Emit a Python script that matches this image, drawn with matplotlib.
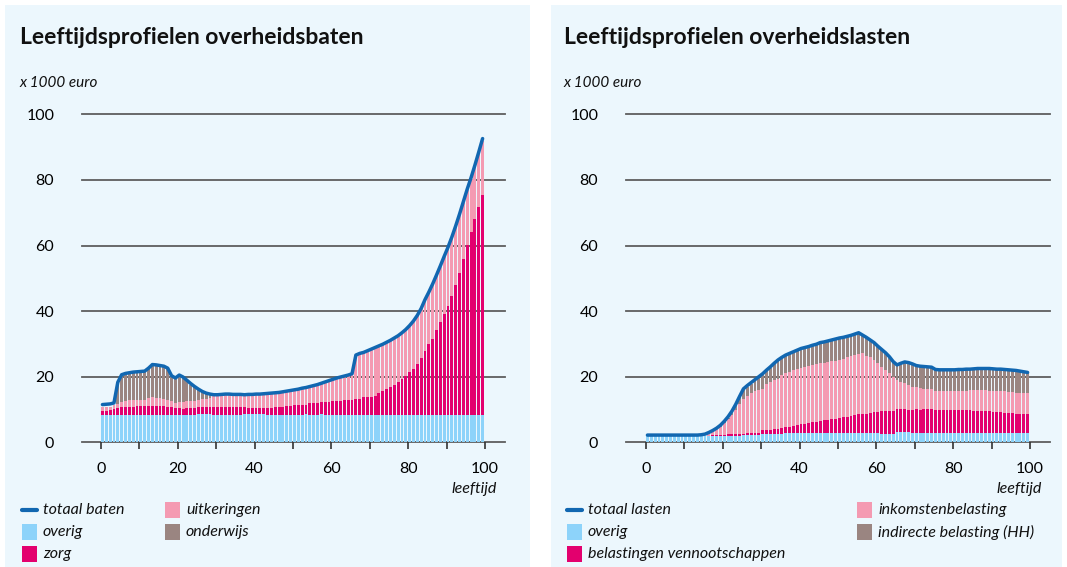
import numpy as np
import matplotlib
matplotlib.use("Agg")
import matplotlib.pyplot as plt
from matplotlib.patches import Rectangle
from matplotlib.lines import Line2D

# leeftijd 0..99, bedragen x 1000 euro
ages = np.arange(100)

baten_overig = [
    8.2, 8.2, 8.2, 8.2, 8.2, 8.2, 8.2, 8.2, 8.2, 8.2,
    8.2, 8.2, 8.2, 8.2, 8.2, 8.2, 8.2, 8.2, 8.2, 8.2,
    8.2, 8.2, 8.2, 8.2, 8.2, 8.5, 8.5, 8.5, 8.5, 8.2,
    8.2, 8.2, 8.2, 8.2, 8.2, 8.2, 8.2, 8.5, 8.5, 8.5,
    8.5, 8.5, 8.5, 8.2, 8.2, 8.2, 8.2, 8.2, 8.2, 8.2,
    8.2, 8.2, 8.2, 8.5, 8.2, 8.2, 8.2, 8.5, 8.2, 8.2,
    8.2, 8.2, 8.2, 8.2, 8.2, 8.2, 8.2, 8.2, 8.2, 8.2,
    8.2, 8.2, 8.2, 8.2, 8.2, 8.2, 8.2, 8.2, 8.2, 8.2,
    8.2, 8.2, 8.2, 8.2, 8.2, 8.2, 8.2, 8.2, 8.2, 8.2,
    8.2, 8.2, 8.2, 8.2, 8.2, 8.2, 8.2, 8.2, 8.2, 8.2,
]
baten_zorg = [
    1.4, 1.4, 1.7, 2.0, 2.3, 2.5, 2.5, 2.7, 2.7, 3.0,
    3.0, 3.0, 3.0, 3.0, 3.0, 3.0, 3.0, 2.7, 2.7, 2.3,
    2.3, 2.0, 2.3, 2.3, 2.3, 2.2, 2.2, 2.4, 2.4, 2.7,
    2.7, 2.7, 2.7, 2.7, 2.7, 2.7, 2.7, 2.4, 2.1, 2.1,
    2.1, 2.1, 2.1, 2.4, 2.4, 2.7, 2.7, 2.7, 3.0, 3.0,
    3.1, 3.3, 3.3, 3.0, 3.7, 3.7, 3.7, 3.7, 4.0, 4.0,
    4.3, 4.3, 4.3, 4.7, 4.7, 4.7, 5.1, 5.1, 5.5, 5.5,
    5.7, 6.0, 6.7, 7.5, 8.2, 8.7, 9.4, 10.3, 11.2, 12.0,
    13.3, 14.3, 15.8, 17.6, 19.5, 21.7, 23.4, 25.9, 28.5, 30.8,
    33.5, 36.3, 39.9, 43.5, 47.8, 52.1, 55.9, 59.8, 63.6, 67.2,
]
baten_uitkeringen = [
    1.3, 1.3, 1.0, 1.3, 1.2, 1.7, 1.8, 2.0, 2.0, 1.7,
    1.7, 1.7, 2.2, 2.5, 2.3, 2.2, 2.0, 2.0, 1.8, 1.4,
    1.7, 2.0, 2.0, 2.0, 2.2, 2.2, 2.4, 2.3, 2.5, 3.3,
    3.3, 3.4, 3.5, 3.5, 3.4, 3.4, 3.4, 3.3, 3.7, 3.7,
    3.8, 3.8, 3.9, 4.0, 4.1, 3.9, 4.0, 4.2, 4.1, 4.3,
    4.4, 4.4, 4.7, 4.9, 4.8, 5.1, 5.4, 5.5, 5.9, 6.3,
    6.4, 6.8, 7.1, 7.0, 7.3, 7.6, 13.0, 13.5, 13.4, 13.9,
    14.2, 14.4, 14.2, 13.9, 13.8, 13.9, 13.9, 13.7, 13.7, 13.9,
    13.8, 14.2, 14.4, 14.7, 15.5, 15.6, 16.4, 16.6, 16.8, 17.4,
    17.5, 17.8, 17.6, 17.6, 17.1, 16.6, 16.3, 16.2, 16.4, 16.4,
]
baten_onderwijs = [
    0.0, 0.0, 0.0, 0.0, 6.1, 7.9, 8.3, 8.1, 8.3, 8.5,
    8.6, 8.6, 8.9, 9.7, 10.0, 9.8, 9.8, 9.4, 7.6, 7.7,
    8.3, 7.4, 6.1, 5.1, 4.1, 3.0, 2.1, 1.5, 1.0, 0.0,
] + [0.0] * 70
totaal_baten = [
    11.5, 11.6, 11.7, 12.0, 18.3, 20.6, 21.0, 21.2, 21.4, 21.5,
    21.6, 21.7, 22.6, 23.7, 23.6, 23.4, 23.2, 22.6, 20.3, 19.6,
    20.5, 19.9, 18.9, 17.9, 17.0, 16.2, 15.5, 15.0, 14.7, 14.5,
    14.5, 14.6, 14.7, 14.7, 14.6, 14.6, 14.6, 14.5, 14.6, 14.6,
    14.7, 14.7, 14.8, 14.9, 15.0, 15.1, 15.2, 15.4, 15.6, 15.8,
    16.0, 16.2, 16.5, 16.7, 17.0, 17.3, 17.6, 18.0, 18.4, 18.8,
    19.2, 19.6, 19.9, 20.2, 20.5, 20.9, 26.6, 27.1, 27.4, 27.9,
    28.4, 28.9, 29.4, 29.9, 30.5, 31.1, 31.8, 32.5, 33.4, 34.4,
    35.6, 37.0, 38.7, 40.8, 43.5, 45.8, 48.3, 51.0, 53.8, 56.7,
    59.5, 62.6, 66.0, 69.6, 73.4, 77.2, 80.7, 84.5, 88.5, 92.6,
]

lasten_overig = [
    1.9, 1.9, 1.9, 1.9, 1.9, 1.9, 1.9, 1.9, 1.9, 1.9,
    1.9, 1.9, 1.9, 1.9, 1.9, 1.9, 1.9, 1.9, 1.9, 1.9,
    1.9, 1.9, 1.9, 1.9, 1.9, 2.1, 2.1, 2.1, 2.1, 2.1,
    2.6, 2.6, 2.6, 2.6, 2.6, 2.6, 2.8, 2.8, 2.8, 2.8,
    2.8, 2.8, 2.8, 2.8, 2.8, 2.8, 2.8, 2.8, 2.8, 2.8,
    2.8, 2.8, 2.8, 2.8, 2.8, 2.8, 2.8, 2.8, 2.8, 2.8,
    2.8, 2.5, 2.5, 2.5, 2.5, 3.1, 3.1, 3.1, 3.1, 2.8,
    2.8, 2.8, 2.8, 2.8, 2.8, 2.8, 2.8, 2.8, 2.8, 2.8,
    2.8, 2.8, 2.8, 2.8, 2.8, 2.8, 2.8, 2.8, 2.8, 2.8,
    2.8, 2.8, 2.8, 2.8, 2.8, 2.8, 2.8, 2.8, 2.8, 2.8,
]
lasten_vennootschap = [
    0.0, 0.0, 0.0, 0.0, 0.0, 0.0, 0.0, 0.0, 0.0, 0.0,
    0.0, 0.0, 0.0, 0.0, 0.0, 0.0, 0.1, 0.2, 0.3, 0.4,
    0.4, 0.5, 0.5, 0.5, 0.6, 0.5, 0.6, 0.7, 0.7, 0.8,
    1.0, 1.0, 1.2, 1.5, 1.5, 1.9, 1.8, 2.0, 2.3, 2.5,
    2.7, 2.8, 3.0, 3.3, 3.5, 3.7, 4.0, 4.0, 4.2, 4.3,
    4.7, 4.9, 5.0, 5.3, 5.5, 5.7, 5.8, 5.9, 6.1, 6.3,
    6.4, 6.9, 7.0, 7.0, 7.0, 7.0, 7.1, 7.1, 6.8, 7.1,
    7.4, 7.1, 7.5, 7.5, 7.4, 7.1, 7.1, 7.1, 7.1, 7.1,
    7.1, 7.1, 7.1, 7.1, 7.0, 6.8, 6.8, 6.8, 6.7, 6.6,
    6.5, 6.3, 6.3, 6.0, 6.0, 6.0, 5.7, 5.7, 5.7, 5.7,
]
lasten_inkomsten = [
    0.0, 0.0, 0.0, 0.0, 0.0, 0.0, 0.0, 0.0, 0.0, 0.0,
    0.0, 0.0, 0.0, 0.0, 0.0, 0.0, 0.7, 1.2, 1.8, 2.5,
    3.5, 4.6, 6.0, 7.5, 9.2, 10.6, 11.5, 12.2, 12.8, 13.1,
    12.8, 14.1, 14.7, 14.9, 15.1, 16.0, 16.4, 16.7, 16.9, 17.2,
    17.2, 17.4, 17.4, 17.5, 17.6, 17.6, 17.5, 17.8, 17.8, 17.8,
    17.6, 17.7, 18.3, 18.2, 18.4, 18.4, 18.5, 17.6, 17.0, 16.0,
    14.9, 13.6, 12.5, 11.5, 10.3, 8.9, 8.2, 7.8, 7.5, 7.0,
    6.6, 6.6, 6.1, 6.1, 6.0, 5.8, 5.8, 5.8, 5.8, 5.8,
    5.8, 5.8, 5.8, 5.8, 6.2, 6.4, 6.3, 6.3, 6.3, 6.3,
    6.4, 6.6, 6.4, 6.7, 6.5, 6.4, 6.5, 6.4, 6.4, 6.4,
]
lasten_indirect = [
    0.0, 0.0, 0.0, 0.0, 0.0, 0.0, 0.0, 0.0, 0.0, 0.0,
    0.0, 0.0, 0.0, 0.0, 0.0, 0.0, 0.0, 0.0, 0.0, 0.1,
    0.3, 0.5, 0.8, 1.4, 2.0, 2.8, 2.8, 2.9, 3.2, 3.7,
    4.2, 4.0, 4.2, 4.8, 5.6, 5.1, 5.3, 5.3, 5.3, 5.3,
    5.6, 5.6, 5.7, 5.7, 5.7, 6.0, 6.0, 6.0, 6.1, 6.3,
    6.4, 6.3, 5.9, 6.0, 6.0, 6.2, 5.3, 5.4, 5.0, 5.0,
    4.9, 5.0, 5.0, 4.8, 4.5, 4.3, 5.4, 6.2, 6.6, 6.7,
    6.3, 6.4, 6.4, 6.3, 6.4, 6.2, 6.1, 6.1, 6.1, 6.1,
    6.1, 6.2, 6.2, 6.3, 6.0, 6.1, 6.3, 6.3, 6.4, 6.5,
    6.4, 6.3, 6.5, 6.4, 6.5, 6.5, 6.6, 6.5, 6.3, 6.1,
]
totaal_lasten = [
    2.2, 2.2, 2.2, 2.2, 2.2, 2.2, 2.2, 2.2, 2.2, 2.2,
    2.2, 2.2, 2.2, 2.2, 2.3, 2.5, 3.0, 3.6, 4.3, 5.2,
    6.4, 7.8, 9.5, 11.6, 14.0, 16.3, 17.3, 18.2, 19.1, 20.0,
    20.9, 22.0, 23.0, 24.1, 25.1, 25.9, 26.6, 27.1, 27.6, 28.1,
    28.6, 28.9, 29.2, 29.6, 29.9, 30.4, 30.6, 30.9, 31.2, 31.5,
    31.8, 32.0, 32.3, 32.6, 33.0, 33.4, 32.7, 32.0, 31.2, 30.4,
    29.3, 28.3, 27.3, 26.1, 24.6, 23.6, 24.1, 24.5, 24.3, 23.9,
    23.4, 23.2, 23.1, 23.0, 22.9, 22.2, 22.1, 22.1, 22.1, 22.1,
    22.1, 22.2, 22.2, 22.3, 22.3, 22.4, 22.5, 22.5, 22.5, 22.5,
    22.4, 22.3, 22.3, 22.2, 22.1, 22.0, 21.9, 21.7, 21.5, 21.3,
]

W, H = 1067, 567
BG = "#ecf7fd"
C_LINE = "#1167b1"
C_OVERIG = "#8dd3fa"
C_MAGENTA = "#e3006e"
C_PINK = "#f49ab2"
C_GREY = "#9a8581"
C_GRID = "#5e5e5e"

plt.rcParams['font.family'] = ['Lato', 'DejaVu Sans']
plt.rcParams['text.color'] = '#111111'


def fx(px):
    return px / W


def fy(py):
    return 1 - py / H


def render(fig, box, x0px, title, stacks, total, total_label, legend_cols):
    # box = (left, top, right, bottom) in pixels, x0px = pixel of age 0
    left, top, right, bottom = box
    ax = fig.add_axes([fx(left), fy(bottom), fx(right - left), (bottom - top) / H])
    ax.set_facecolor("none")
    pxu = 3.84  # pixels per year
    ax.set_xlim((left - x0px) / pxu, (right - x0px) / pxu)
    ax.set_ylim(0, 100)
    for s in ax.spines.values():
        s.set_visible(False)
    for v in range(0, 101, 20):
        ax.axhline(v, color=C_GRID, lw=1.3, zorder=1, clip_on=False)
    ax.set_yticks(range(0, 101, 20))
    ax.tick_params(axis="y", length=0, pad=20, labelsize=11.5)
    ax.set_xticks(range(0, 101, 20))
    ax.set_xticks(range(10, 100, 20), minor=True)
    ax.tick_params(axis="x", which="both", length=5, width=1.2, color="#333333",
                   pad=9, labelsize=11.5)

    bottom_vals = np.zeros(len(ages))
    for vals, color, _ in stacks:
        vals = np.asarray(vals)
        ax.bar(ages, vals, width=0.75, bottom=bottom_vals, align="edge",
               color=color, lw=0, zorder=2)
        bottom_vals = bottom_vals + vals
    ax.plot(ages + 0.375, total, color=C_LINE, lw=2.5, zorder=3,
            solid_capstyle="round", solid_joinstyle="round", clip_on=False)

    fig.text(fx(left - 62), fy(38), title, fontsize=16.5, fontweight="bold", va="center")
    fig.text(fx(left - 63), fy(83), "x 1000 euro", fontsize=11, style="italic", va="center")
    fig.text(fx(right - 8), fy(489), "leeftijd", fontsize=11.5, style="italic",
             va="center", ha="right")

    # legenda: kolom 1 = totaal, overig, 2e laag; kolom 2 = 3e en 4e laag
    entries = [(total_label, C_LINE, "line")] + [(lab, c, "box") for _, c, lab in stacks]
    rows = [510, 532, 554]
    slots = [(legend_cols[0], rows[0]), (legend_cols[0], rows[1]), (legend_cols[0], rows[2]),
             (legend_cols[1], rows[0]), (legend_cols[1], rows[1])]
    for (lab, c, kind), (hx, ry) in zip(entries, slots):
        if kind == "line":
            fig.add_artist(Line2D([fx(hx), fx(hx + 15)], [fy(ry), fy(ry)], color=c, lw=3,
                                  solid_capstyle="round", transform=fig.transFigure))
        else:
            fig.add_artist(Rectangle((fx(hx), fy(ry + 8)), 15 / W, 16 / H, color=c,
                                     lw=0, transform=fig.transFigure))
        fig.text(fx(hx + 21), fy(ry), lab, fontsize=11.5, style="italic", va="center")
    return ax


fig = plt.figure(figsize=(W / 100, H / 100), dpi=100)
fig.patch.set_facecolor("white")
fig.add_artist(Rectangle((fx(5), 0), fx(530 - 5), fy(5), color=BG, lw=0,
                         transform=fig.transFigure, zorder=-5))
fig.add_artist(Rectangle((fx(551), 0), fx(1062 - 551), fy(5), color=BG, lw=0,
                         transform=fig.transFigure, zorder=-5))

render(fig, (82, 114.3, 505, 442.3), 101, "Leeftijdsprofielen overheidsbaten",
       [(baten_overig, C_OVERIG, "overig"),
        (baten_zorg, C_MAGENTA, "zorg"),
        (baten_uitkeringen, C_PINK, "uitkeringen"),
        (baten_onderwijs, C_GREY, "onderwijs")],
       totaal_baten, "totaal baten", (22, 165))

render(fig, (626, 114.3, 1050, 442.3), 646, "Leeftijdsprofielen overheidslasten",
       [(lasten_overig, C_OVERIG, "overig"),
        (lasten_vennootschap, C_MAGENTA, "belastingen vennootschappen"),
        (lasten_inkomsten, C_PINK, "inkomstenbelasting"),
        (lasten_indirect, C_GREY, "indirecte belasting (HH)")],
       totaal_lasten, "totaal lasten", (567, 857))

fig.savefig("out.png", dpi=100, facecolor="white")
